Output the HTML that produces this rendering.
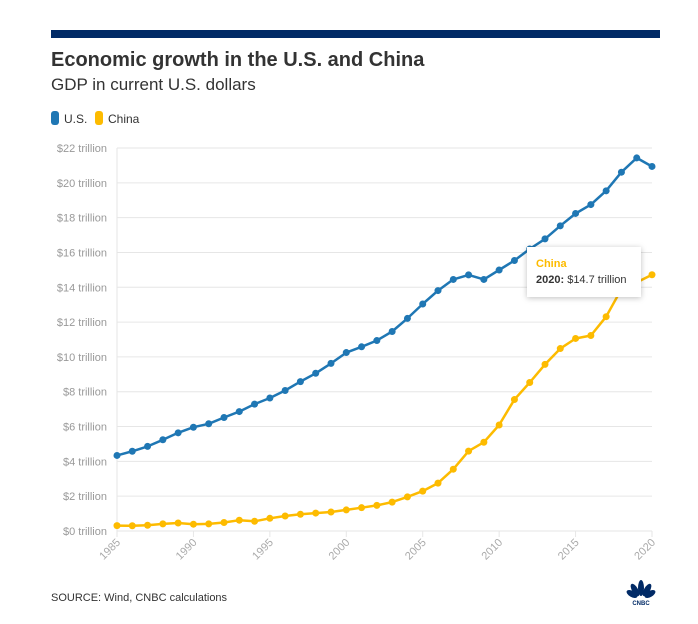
<!DOCTYPE html>
<html><head><meta charset="utf-8"><style>
body{margin:0;background:#fff;width:698px;height:619px;overflow:hidden;font-family:"Liberation Sans",sans-serif}
</style></head><body>
<svg id="s" width="698" height="619" xmlns="http://www.w3.org/2000/svg" font-family="Liberation Sans, sans-serif">
<rect x="51" y="30" width="609" height="8" fill="#012a66"/>
<text x="51" y="66" font-size="20" font-weight="bold" fill="#333">Economic growth in the U.S. and China</text>
<text x="51" y="90" font-size="17" fill="#333">GDP in current U.S. dollars</text>
<rect x="51" y="111" width="8" height="14" rx="3" fill="#1f77b4"/>
<text x="64" y="123" font-size="12" fill="#333">U.S.</text>
<rect x="95" y="111" width="8" height="14" rx="3" fill="#fdbb00"/>
<text x="108" y="123" font-size="12" fill="#333">China</text>
<g id="g"></g>
<text x="51" y="601" font-size="11" fill="#333">SOURCE: Wind, CNBC calculations</text>
<g fill="#012a66"><ellipse cx="641" cy="588" rx="3" ry="8"/><ellipse cx="635" cy="590" rx="3" ry="7" transform="rotate(-30 635 590)"/><ellipse cx="647" cy="590" rx="3" ry="7" transform="rotate(30 647 590)"/><ellipse cx="632" cy="594" rx="3" ry="6" transform="rotate(-60 632 594)"/><ellipse cx="650" cy="594" rx="3" ry="6" transform="rotate(60 650 594)"/></g>
<text x="641" y="605" font-size="6" font-weight="bold" text-anchor="middle" fill="#012a66">CNBC</text>
</svg>
<script>
var us=[4.34,4.58,4.86,5.24,5.64,5.96,6.16,6.52,6.86,7.29,7.64,8.07,8.58,9.06,9.63,10.25,10.58,10.94,11.46,12.21,13.04,13.81,14.45,14.71,14.45,14.99,15.54,16.2,16.78,17.53,18.24,18.75,19.54,20.61,21.43,20.94];
var cn=[0.31,0.30,0.33,0.41,0.46,0.39,0.41,0.49,0.62,0.56,0.73,0.86,0.96,1.03,1.09,1.21,1.34,1.47,1.66,1.96,2.29,2.75,3.55,4.59,5.10,6.09,7.55,8.53,9.57,10.48,11.06,11.23,12.31,13.89,14.28,14.72];
function X(i){return 117+i*(535/35)}function Y(v){return 531-v*383/22}
var h='';
for(var k=0;k<=11;k++){var y=Y(k*2);h+='<line x1="117" x2="652" y1="'+y+'" y2="'+y+'" stroke="#e6e6e6"/>';h+='<text x="107" y="'+(y+4)+'" font-size="11" fill="#999" text-anchor="end">$'+(k*2)+' trillion</text>';}
h+='<line x1="117" x2="117" y1="148" y2="531" stroke="#e6e6e6"/>';
for(var yr=1985;yr<=2020;yr+=5){var x=X(yr-1985);h+='<line x1="'+x+'" x2="'+x+'" y1="531" y2="537" stroke="#e6e6e6"/><text transform="translate('+(x+4)+',543) rotate(-45)" font-size="11" fill="#aaa" text-anchor="end">'+yr+'</text>';}
function ser(d,c){var p=d.map(function(v,i){return X(i).toFixed(1)+','+Y(v).toFixed(1)}).join(' ');var s='<polyline points="'+p+'" fill="none" stroke="'+c+'" stroke-width="2.5" stroke-linejoin="round"/>';d.forEach(function(v,i){s+='<circle cx="'+X(i)+'" cy="'+Y(v)+'" r="3.5" fill="'+c+'"/>'});return s}
h+=ser(us,'#1f77b4')+ser(cn,'#fdbb00');
h+='<rect x="527" y="247" width="114" height="50" fill="#fff" style="filter:drop-shadow(0 1px 3px rgba(0,0,0,.25))"/>';
h+='<text x="536" y="267" font-size="11" font-weight="bold" fill="#fdbb00">China</text><text x="536" y="283" font-size="11" fill="#333"><tspan font-weight="bold">2020:</tspan> $14.7 trillion</text>';
document.getElementById('g').innerHTML=h;
</script>
</body></html>
